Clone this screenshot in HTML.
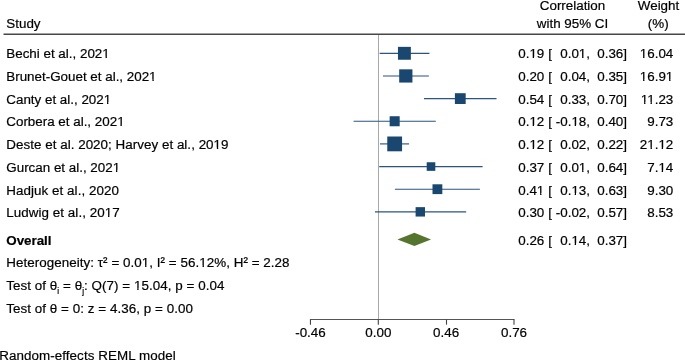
<!DOCTYPE html><html><head><meta charset="utf-8"><style>html,body{margin:0;padding:0;background:#fff;overflow:hidden}svg{display:block;will-change:transform}text{font-family:"Liberation Sans",sans-serif;font-size:13.4px;fill:#000;stroke:#000;stroke-width:0.2px}</style></head><body>
<svg width="685" height="361" viewBox="0 0 685 361">
<g transform="translate(6.30,27.70) scale(1,1.020)"><text>Study</text></g>
<g transform="translate(572.50,9.55) scale(1,1.020)"><text text-anchor="middle">Correlation</text></g>
<g transform="translate(572.50,28.00) scale(1,1.020)"><text text-anchor="middle">with 95% CI</text></g>
<g transform="translate(658.50,9.70) scale(1,1.020)"><text text-anchor="middle">Weight</text></g>
<g transform="translate(658.20,28.00) scale(1,1.020)"><text text-anchor="middle">(%)</text></g>
<line x1="378.5" y1="34.5" x2="378.5" y2="319.5" stroke="#a8a8a8" stroke-width="1"/>
<line x1="3.5" y1="34.3" x2="685" y2="34.3" stroke="#474747" stroke-width="1.6"/>
<g transform="translate(6.30,58.30) scale(1,1.020)"><text>Bechi et al., 2021</text><rect x="96.28" y="-1.45" width="2.97" height="2.15" fill="#fff"/><rect x="100.59" y="-1.45" width="2.86" height="2.15" fill="#fff"/></g>
<line x1="379.66" y1="53.30" x2="429.44" y2="53.30" stroke="#2b5580" stroke-width="1.15"/>
<rect x="397.95" y="46.85" width="12.90" height="12.90" fill="#1a476f"/>
<g transform="translate(544.30,58.30) scale(1,1.020)"><text text-anchor="end">0.19</text><rect x="-14.58" y="-1.45" width="2.97" height="2.15" fill="#fff"/><rect x="-10.26" y="-1.45" width="2.86" height="2.15" fill="#fff"/></g>
<g transform="translate(548.30,58.30) scale(1,1.020)"><text>[</text></g>
<g transform="translate(590.00,58.30) scale(1,1.020)"><text text-anchor="end">0.01,</text><rect x="-10.85" y="-1.45" width="2.97" height="2.15" fill="#fff"/><rect x="-6.54" y="-1.45" width="2.86" height="2.15" fill="#fff"/></g>
<g transform="translate(627.00,58.30) scale(1,1.020)"><text text-anchor="end">0.36]</text></g>
<g transform="translate(673.30,58.30) scale(1,1.020)"><text text-anchor="end">16.04</text><rect x="-33.17" y="-1.45" width="2.97" height="2.15" fill="#fff"/><rect x="-28.86" y="-1.45" width="2.86" height="2.15" fill="#fff"/></g>
<g transform="translate(6.30,81.00) scale(1,1.020)"><text>Brunet-Gouet et al., 2021</text><rect x="143.14" y="-1.45" width="2.97" height="2.15" fill="#fff"/><rect x="147.45" y="-1.45" width="2.86" height="2.15" fill="#fff"/></g>
<line x1="383.00" y1="75.95" x2="428.90" y2="75.95" stroke="#2b5580" stroke-width="1.15"/>
<rect x="399.19" y="69.33" width="13.24" height="13.24" fill="#1a476f"/>
<g transform="translate(544.30,81.00) scale(1,1.020)"><text text-anchor="end">0.20</text></g>
<g transform="translate(548.30,81.00) scale(1,1.020)"><text>[</text></g>
<g transform="translate(590.00,81.00) scale(1,1.020)"><text text-anchor="end">0.04,</text></g>
<g transform="translate(627.00,81.00) scale(1,1.020)"><text text-anchor="end">0.35]</text></g>
<g transform="translate(673.30,81.00) scale(1,1.020)"><text text-anchor="end">16.91</text><rect x="-33.17" y="-1.45" width="2.97" height="2.15" fill="#fff"/><rect x="-28.86" y="-1.45" width="2.86" height="2.15" fill="#fff"/><rect x="-7.14" y="-1.45" width="2.97" height="2.15" fill="#fff"/><rect x="-2.82" y="-1.45" width="2.86" height="2.15" fill="#fff"/></g>
<g transform="translate(6.30,103.70) scale(1,1.020)"><text>Canty et al., 2021</text><rect x="97.76" y="-1.45" width="2.97" height="2.15" fill="#fff"/><rect x="102.08" y="-1.45" width="2.86" height="2.15" fill="#fff"/></g>
<line x1="424.00" y1="98.60" x2="496.50" y2="98.60" stroke="#2b5580" stroke-width="1.15"/>
<rect x="454.89" y="93.20" width="10.79" height="10.79" fill="#1a476f"/>
<g transform="translate(544.30,103.70) scale(1,1.020)"><text text-anchor="end">0.54</text></g>
<g transform="translate(548.30,103.70) scale(1,1.020)"><text>[</text></g>
<g transform="translate(590.00,103.70) scale(1,1.020)"><text text-anchor="end">0.33,</text></g>
<g transform="translate(627.00,103.70) scale(1,1.020)"><text text-anchor="end">0.70]</text></g>
<g transform="translate(673.30,103.70) scale(1,1.020)"><text text-anchor="end">11.23</text><rect x="-32.18" y="-1.45" width="2.97" height="2.15" fill="#fff"/><rect x="-27.87" y="-1.45" width="2.86" height="2.15" fill="#fff"/><rect x="-25.75" y="-1.45" width="2.97" height="2.15" fill="#fff"/><rect x="-21.43" y="-1.45" width="2.86" height="2.15" fill="#fff"/></g>
<g transform="translate(6.30,126.40) scale(1,1.020)"><text>Corbera et al., 2021</text><rect x="111.14" y="-1.45" width="2.97" height="2.15" fill="#fff"/><rect x="115.46" y="-1.45" width="2.86" height="2.15" fill="#fff"/></g>
<line x1="353.60" y1="121.25" x2="435.79" y2="121.25" stroke="#2b5580" stroke-width="1.15"/>
<rect x="389.64" y="116.23" width="10.04" height="10.04" fill="#1a476f"/>
<g transform="translate(544.30,126.40) scale(1,1.020)"><text text-anchor="end">0.12</text><rect x="-14.58" y="-1.45" width="2.97" height="2.15" fill="#fff"/><rect x="-10.26" y="-1.45" width="2.86" height="2.15" fill="#fff"/></g>
<g transform="translate(548.30,126.40) scale(1,1.020)"><text>[</text></g>
<g transform="translate(590.00,126.40) scale(1,1.020)"><text text-anchor="end">-0.18,</text><rect x="-18.29" y="-1.45" width="2.97" height="2.15" fill="#fff"/><rect x="-13.98" y="-1.45" width="2.86" height="2.15" fill="#fff"/></g>
<g transform="translate(627.00,126.40) scale(1,1.020)"><text text-anchor="end">0.40]</text></g>
<g transform="translate(673.30,126.40) scale(1,1.020)"><text text-anchor="end">9.73</text></g>
<g transform="translate(6.30,149.10) scale(1,1.020)"><text textLength="222.23" lengthAdjust="spacing">Deste et al. 2020; Harvey et al., 2019</text><rect x="207.61" y="-1.45" width="2.97" height="2.15" fill="#fff"/><rect x="211.93" y="-1.45" width="2.86" height="2.15" fill="#fff"/></g>
<line x1="380.00" y1="143.90" x2="409.10" y2="143.90" stroke="#2b5580" stroke-width="1.15"/>
<rect x="387.26" y="136.50" width="14.80" height="14.80" fill="#1a476f"/>
<g transform="translate(544.30,149.10) scale(1,1.020)"><text text-anchor="end">0.12</text><rect x="-14.58" y="-1.45" width="2.97" height="2.15" fill="#fff"/><rect x="-10.26" y="-1.45" width="2.86" height="2.15" fill="#fff"/></g>
<g transform="translate(548.30,149.10) scale(1,1.020)"><text>[</text></g>
<g transform="translate(590.00,149.10) scale(1,1.020)"><text text-anchor="end">0.02,</text></g>
<g transform="translate(627.00,149.10) scale(1,1.020)"><text text-anchor="end">0.22]</text></g>
<g transform="translate(673.30,149.10) scale(1,1.020)"><text text-anchor="end">21.12</text><rect x="-25.73" y="-1.45" width="2.97" height="2.15" fill="#fff"/><rect x="-21.42" y="-1.45" width="2.86" height="2.15" fill="#fff"/><rect x="-14.58" y="-1.45" width="2.97" height="2.15" fill="#fff"/><rect x="-10.26" y="-1.45" width="2.86" height="2.15" fill="#fff"/></g>
<g transform="translate(6.30,171.80) scale(1,1.020)"><text>Gurcan et al., 2021</text><rect x="106.69" y="-1.45" width="2.97" height="2.15" fill="#fff"/><rect x="111.00" y="-1.45" width="2.86" height="2.15" fill="#fff"/></g>
<line x1="379.20" y1="166.55" x2="482.60" y2="166.55" stroke="#2b5580" stroke-width="1.15"/>
<rect x="426.71" y="162.25" width="8.60" height="8.60" fill="#1a476f"/>
<g transform="translate(544.30,171.80) scale(1,1.020)"><text text-anchor="end">0.37</text></g>
<g transform="translate(548.30,171.80) scale(1,1.020)"><text>[</text></g>
<g transform="translate(590.00,171.80) scale(1,1.020)"><text text-anchor="end">0.01,</text><rect x="-10.85" y="-1.45" width="2.97" height="2.15" fill="#fff"/><rect x="-6.54" y="-1.45" width="2.86" height="2.15" fill="#fff"/></g>
<g transform="translate(627.00,171.80) scale(1,1.020)"><text text-anchor="end">0.64]</text></g>
<g transform="translate(673.30,171.80) scale(1,1.020)"><text text-anchor="end">7.14</text><rect x="-14.58" y="-1.45" width="2.97" height="2.15" fill="#fff"/><rect x="-10.26" y="-1.45" width="2.86" height="2.15" fill="#fff"/></g>
<g transform="translate(6.30,194.50) scale(1,1.020)"><text textLength="112.64" lengthAdjust="spacing">Hadjuk et al., 2020</text></g>
<line x1="394.90" y1="189.20" x2="479.90" y2="189.20" stroke="#2b5580" stroke-width="1.15"/>
<rect x="432.50" y="184.29" width="9.82" height="9.82" fill="#1a476f"/>
<g transform="translate(544.30,194.50) scale(1,1.020)"><text text-anchor="end">0.41</text><rect x="-7.14" y="-1.45" width="2.97" height="2.15" fill="#fff"/><rect x="-2.82" y="-1.45" width="2.86" height="2.15" fill="#fff"/></g>
<g transform="translate(548.30,194.50) scale(1,1.020)"><text>[</text></g>
<g transform="translate(590.00,194.50) scale(1,1.020)"><text text-anchor="end">0.13,</text><rect x="-18.29" y="-1.45" width="2.97" height="2.15" fill="#fff"/><rect x="-13.98" y="-1.45" width="2.86" height="2.15" fill="#fff"/></g>
<g transform="translate(627.00,194.50) scale(1,1.020)"><text text-anchor="end">0.63]</text></g>
<g transform="translate(673.30,194.50) scale(1,1.020)"><text text-anchor="end">9.30</text></g>
<g transform="translate(6.30,217.20) scale(1,1.020)"><text textLength="113.40" lengthAdjust="spacing">Ludwig et al., 2017</text><rect x="98.76" y="-1.45" width="2.97" height="2.15" fill="#fff"/><rect x="103.08" y="-1.45" width="2.86" height="2.15" fill="#fff"/></g>
<line x1="375.00" y1="211.85" x2="466.17" y2="211.85" stroke="#2b5580" stroke-width="1.15"/>
<rect x="415.60" y="207.15" width="9.40" height="9.40" fill="#1a476f"/>
<g transform="translate(544.30,217.20) scale(1,1.020)"><text text-anchor="end">0.30</text></g>
<g transform="translate(548.30,217.20) scale(1,1.020)"><text>[</text></g>
<g transform="translate(590.00,217.20) scale(1,1.020)"><text text-anchor="end">-0.02,</text></g>
<g transform="translate(627.00,217.20) scale(1,1.020)"><text text-anchor="end">0.57]</text></g>
<g transform="translate(673.30,217.20) scale(1,1.020)"><text text-anchor="end">8.53</text></g>
<g transform="translate(6.30,244.90) scale(1,1.020)"><text font-weight="bold" textLength="45.24" lengthAdjust="spacing">Overall</text></g>
<polygon points="397.42,239.40 414.41,232.80 431.01,239.40 414.41,246.00" fill="#55752f"/>
<g transform="translate(544.30,244.80) scale(1,1.020)"><text text-anchor="end">0.26</text></g>
<g transform="translate(548.30,244.80) scale(1,1.020)"><text>[</text></g>
<g transform="translate(590.00,244.80) scale(1,1.020)"><text text-anchor="end">0.14,</text><rect x="-18.29" y="-1.45" width="2.97" height="2.15" fill="#fff"/><rect x="-13.98" y="-1.45" width="2.86" height="2.15" fill="#fff"/></g>
<g transform="translate(627.00,244.80) scale(1,1.020)"><text text-anchor="end">0.37]</text></g>
<g transform="translate(6.30,267.10) scale(1,1.020)"><text textLength="283.27" lengthAdjust="spacing">Heterogeneity: τ² = 0.01, I² = 56.12%, H² = 2.28</text><rect x="135.83" y="-1.45" width="2.97" height="2.15" fill="#fff"/><rect x="140.14" y="-1.45" width="2.86" height="2.15" fill="#fff"/><rect x="193.29" y="-1.45" width="2.97" height="2.15" fill="#fff"/><rect x="197.60" y="-1.45" width="2.86" height="2.15" fill="#fff"/></g>
<g transform="translate(6.30,290.00) scale(1,1.020)"><text textLength="218.06" lengthAdjust="spacing">Test of θ<tspan font-size="8.3" dy="3.8">i</tspan><tspan dy="-3.8"> = θ</tspan><tspan font-size="8.3" dy="3.8">j</tspan><tspan dy="-3.8">: Q(7) = 15.04, p = 0.04</tspan></text><rect x="127.97" y="-1.45" width="2.97" height="2.15" fill="#fff"/><rect x="132.28" y="-1.45" width="2.86" height="2.15" fill="#fff"/></g>
<g transform="translate(6.30,312.80) scale(1,1.020)"><text textLength="186.62" lengthAdjust="spacing">Test of θ = 0: z = 4.36, p = 0.00</text></g>
<g stroke="#555" stroke-width="1.1" fill="none">
<line x1="309.95" y1="319.5" x2="514.50" y2="319.5"/>
</g>
<line x1="310.45" y1="319.5" x2="310.45" y2="324.7" stroke="#444" stroke-width="1.1"/>
<line x1="378.30" y1="319.5" x2="378.30" y2="324.7" stroke="#444" stroke-width="1.1"/>
<line x1="446.50" y1="319.5" x2="446.50" y2="324.7" stroke="#444" stroke-width="1.1"/>
<line x1="514.00" y1="319.5" x2="514.00" y2="324.7" stroke="#444" stroke-width="1.1"/>
<g transform="translate(310.45,337.30) scale(1,1.020)"><text text-anchor="middle">-0.46</text></g>
<g transform="translate(378.30,337.30) scale(1,1.020)"><text text-anchor="middle">0.00</text></g>
<g transform="translate(446.15,337.30) scale(1,1.020)"><text text-anchor="middle">0.46</text></g>
<g transform="translate(514.00,337.30) scale(1,1.020)"><text text-anchor="middle">0.76</text></g>
<g transform="translate(-0.80,360.30) scale(1,1.020)"><text textLength="176.52" lengthAdjust="spacing">Random-effects REML model</text></g>
</svg></body></html>
